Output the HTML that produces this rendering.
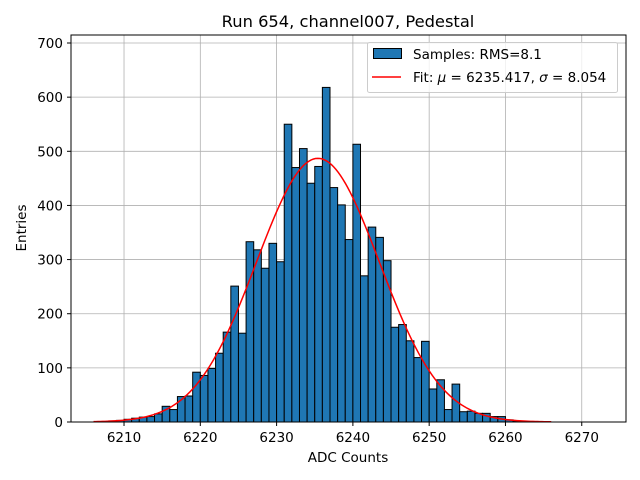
<!DOCTYPE html>
<html><head><meta charset="utf-8"><style>
body{margin:0;background:#fff}
svg{display:block;font-family:"DejaVu Sans","Liberation Sans",sans-serif}
</style></head><body>
<svg id="chart" width="640" height="480" xmlns="http://www.w3.org/2000/svg">
<g id="grid"></g><g id="bars"></g><g id="fit"></g><g id="axes"></g>
</svg>
<script>
const binStarts=[6208,6209,6210,6211,6212,6213,6214,6215,6216,6217,6218,6219,6220,6221,6222,6223,6224,6225,6226,6227,6228,6229,6230,6231,6232,6233,6234,6235,6236,6237,6238,6239,6240,6241,6242,6243,6244,6245,6246,6247,6248,6249,6250,6251,6252,6253,6254,6255,6256,6257,6258,6259,6260,6261];
const counts=[2,3,5,7,9,10,15,29,23,47,48,92,86,99,127,166,251,164,333,318,284,330,296,550,470,505,441,472,618,433,401,337,513,270,360,341,298,175,180,150,119,149,61,78,23,70,19,20,16,16,10,10,4,2];
const xTicks=[6210,6220,6230,6240,6250,6260,6270];
const yTicks=[0,100,200,300,400,500,600,700];
const fitMu=6235.417, fitSigma=8.054, fitAmp=487, fitMin=6206, fitMax=6266;
const L=71,R=626,T=35,B=422,xmin=6203.05,xmax=6275.8,ymax=714.8;
const X=v=>L+(v-xmin)/(xmax-xmin)*(R-L);
const Y=v=>B-v/ymax*(B-T);
const NS="http://www.w3.org/2000/svg";
function mk(tag,attrs,parent,text){const e=document.createElementNS(NS,tag);for(const k in attrs)e.setAttribute(k,attrs[k]);if(text!==undefined)e.textContent=text;document.getElementById(parent).appendChild(e);return e;}
xTicks.forEach(t=>{const g=mk('line',{x1:X(t),x2:X(t),y1:T,y2:B,stroke:'#b0b0b0','stroke-width':0.8},'grid');

});
yTicks.forEach(t=>{const g=mk('line',{x1:L,x2:R,y1:Y(t),y2:Y(t),stroke:'#b0b0b0','stroke-width':0.8},'grid');

});
binStarts.forEach((b,i)=>{const r=mk('rect',{x:X(b),y:Y(counts[i]),width:X(b+1)-X(b),height:B-Y(counts[i]),fill:'#1f77b4',stroke:'#000','stroke-width':1},'bars');

});
let d='';for(let i=0;i<=200;i++){const v=fitMin+(fitMax-fitMin)*i/200;const c=fitAmp*Math.exp(-0.5*((v-fitMu)/fitSigma)**2);d+=(i?'L':'M')+X(v).toFixed(2)+' '+Y(c).toFixed(2);}
const fl=mk('path',{d:d,fill:'none',stroke:'#ff0000','stroke-width':1.5},'fit');


const fr=mk('rect',{x:L,y:T,width:R-L,height:B-T,fill:'none',stroke:'#000','stroke-width':1},'axes');


xTicks.forEach(t=>{mk('line',{x1:X(t),x2:X(t),y1:B,y2:B+4,stroke:'#000'},'axes');
const tx=mk('text',{x:X(t),y:B+20,'text-anchor':'middle','font-size':13.5},'axes',String(t));

});
yTicks.forEach(t=>{mk('line',{x1:L-4,x2:L,y1:Y(t),y2:Y(t),stroke:'#000'},'axes');
const ty=mk('text',{x:L-8,y:Y(t)+5,'text-anchor':'end','font-size':13.5},'axes',String(t));

});
</script>
<svg style="position:absolute;left:0;top:0" width="640" height="480" xmlns="http://www.w3.org/2000/svg" font-family="DejaVu Sans, Liberation Sans, sans-serif">
<text x="348" y="27" text-anchor="middle" font-size="16.3">Run 654, channel007, Pedestal</text>
<text x="348" y="462" text-anchor="middle" font-size="13.5">ADC Counts</text>
<text x="26" y="228" text-anchor="middle" font-size="13.5" transform="rotate(-90 26 228)">Entries</text>
<g>
<rect x="367.5" y="42.5" width="250" height="50" rx="2" fill="#fff" fill-opacity="0.8" stroke="#ccc"/>
<rect x="373.5" y="48.5" width="28" height="10" fill="#1f77b4" stroke="#000"/>
<text x="413" y="59" font-size="13.5">Samples: RMS=8.1</text>
<line x1="372" x2="401" y1="77" y2="77" stroke="#ff0000" stroke-width="1.5"/>
<text x="413" y="82" font-size="13.5">Fit: <tspan font-style="italic">μ</tspan> = 6235.417, <tspan font-style="italic">σ</tspan> = 8.054</text>
</g>
</svg>
</body></html>
